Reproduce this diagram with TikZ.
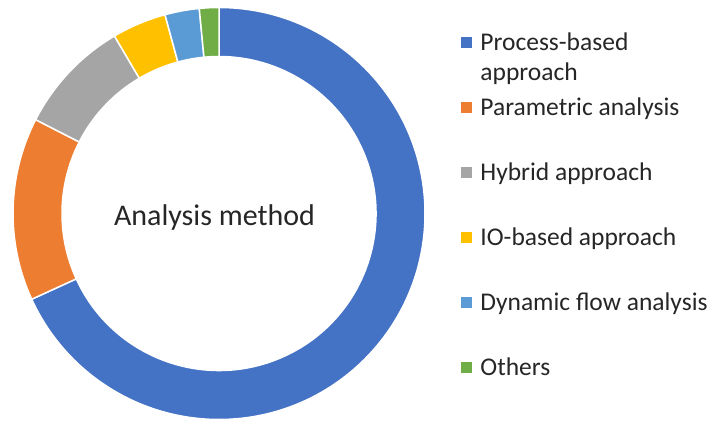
\documentclass[tikz,border=0pt]{standalone}
\usepackage{fontspec}
\setmainfont{Carlito}
\usepackage{xcolor}
\usetikzlibrary{positioning}
\definecolor{procblue}{HTML}{4472C4}
\definecolor{paraorange}{HTML}{ED7D31}
\definecolor{hybgray}{HTML}{A5A5A5}
\definecolor{ioyellow}{HTML}{FFC000}
\definecolor{dynblue}{HTML}{5B9BD5}
\definecolor{othgreen}{HTML}{70AD47}
\tikzstyle{slice} = [draw=white, line width=1.5pt]
\tikzstyle{keybox} = [rectangle, minimum size=11pt, inner sep=0pt]
\tikzstyle{keytext} = [font=\fontsize{25.5}{30}\selectfont, inner sep=0pt, text=black!85]
\tikzstyle{keyline} = [keytext, text height=17pt, text depth=2pt]
% one piece of the ring, from angle #2 to angle #3
\newcommand{\ringpart}[3]{%
  \filldraw[slice, fill=#1] (#2:206) arc[start angle=#2, end angle=#3, radius=206]
    -- (#3:157) arc[start angle=#3, end angle=#2, radius=157] -- cycle;}

\begin{document}
\begin{tikzpicture}[x=1pt, y=1pt, node distance=65pt]
  \useasboundingbox (0,0) rectangle (713,421);
  \begin{scope}[shift={(219,207.5)}]
    \ringpart{procblue}{90}{-155.4}
    \ringpart{paraorange}{-155.4}{-207.1}
    \ringpart{hybgray}{152.9}{120.5}
    \ringpart{ioyellow}{120.5}{105.2}
    \ringpart{dynblue}{105.2}{95.5}
    \ringpart{othgreen}{95.5}{90}
    \node (title) [keytext, font=\fontsize{30}{36}\selectfont, anchor=base] at (-4.5,-12.5) {Analysis method};
  \end{scope}

  \node (procbox) [keybox, fill=procblue] at (466.5,378.3) {};
  \node (parabox) [keybox, fill=paraorange, on grid, below=of procbox] {};
  \node (hybbox) [keybox, fill=hybgray, on grid, below=of parabox] {};
  \node (iobox) [keybox, fill=ioyellow, on grid, below=of hybbox] {};
  \node (dynbox) [keybox, fill=dynblue, on grid, below=of iobox] {};
  \node (othbox) [keybox, fill=othgreen, on grid, below=of dynbox] {};

  \node (proctext) [keytext, align=left, right=8pt of procbox, anchor=north west, yshift=10pt] {Process-based\\approach};
  \node (paratext) [keyline, right=8pt of parabox] {Parametric analysis};
  \node (hybtext) [keyline, right=8pt of hybbox] {Hybrid approach};
  \node (iotext) [keyline, right=8pt of iobox] {IO-based approach};
  \node (dyntext) [keyline, right=8pt of dynbox] {Dynamic flow analysis};
  \node (othtext) [keyline, right=8pt of othbox] {Others};
\end{tikzpicture}
\end{document}
